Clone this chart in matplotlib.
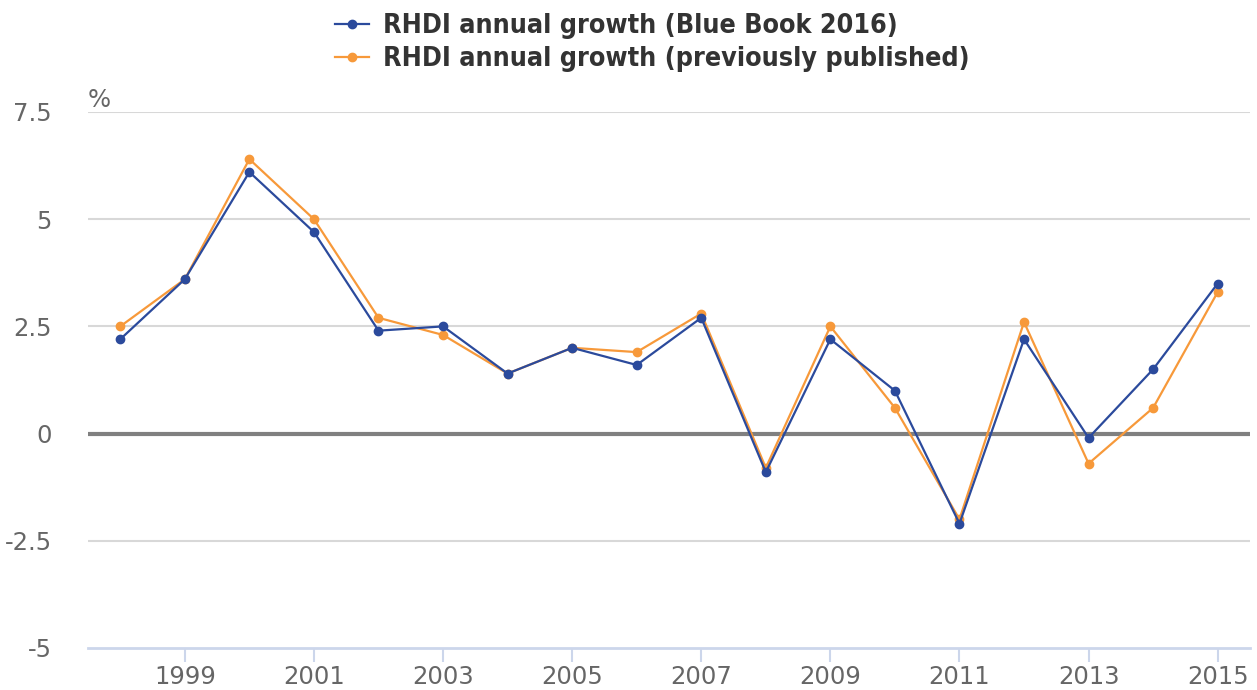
import matplotlib
matplotlib.use('Agg')
import matplotlib.pyplot as plt

years = list(range(1998, 2016))
blue_book_2016 = [2.2, 3.6, 6.1, 4.7, 2.4, 2.5, 1.4, 2.0, 1.6, 2.7,
                  -0.9, 2.2, 1.0, -2.1, 2.2, -0.1, 1.5, 3.5]
previously_published = [2.5, 3.6, 6.4, 5.0, 2.7, 2.3, 1.4, 2.0, 1.9, 2.8,
                        -0.8, 2.5, 0.6, -2.0, 2.6, -0.7, 0.6, 3.3]
y_ticks = [-5, -2.5, 0, 2.5, 5, 7.5]
y_tick_labels = ['-5', '-2.5', '0', '2.5', '5', '7.5']
x_ticks = [1999, 2001, 2003, 2005, 2007, 2009, 2011, 2013, 2015]

fig = plt.figure(figsize=(12.57, 6.9), dpi=100)
ax = fig.add_axes([0.070, 0.0609, 0.9244, 0.7768])

for y in y_ticks[1:]:
    ax.axhline(y, color='#d8d8d8', lw=1.5, zorder=1)
ax.axhline(0, color='#808080', lw=3, zorder=2)

ax.plot(years, blue_book_2016, color='#2b4a9c', lw=1.6, marker='o', ms=6,
        label='RHDI annual growth (Blue Book 2016)', zorder=4)
ax.plot(years, previously_published, color='#f7993a', lw=1.6, marker='o', ms=6,
        label='RHDI annual growth (previously published)', zorder=3)

ax.set_xlim(1997.5, 2015.5)
ax.set_ylim(-5, 7.5)
ax.set_yticks(y_ticks)
ax.set_yticklabels(y_tick_labels)
ax.set_xticks(x_ticks)

for s in ['top', 'right', 'left']:
    ax.spines[s].set_visible(False)
ax.spines['bottom'].set_color('#ccd6eb')
ax.spines['bottom'].set_linewidth(2)
ax.tick_params(axis='y', length=0, pad=26, labelsize=17.5, labelcolor='#666666')
ax.tick_params(axis='x', length=10, width=1.5, color='#ccd6eb', pad=2,
               labelsize=17.5, labelcolor='#666666')

ax.text(0, 1.0, '%', transform=ax.transAxes, fontsize=17.5, color='#666666',
        ha='left', va='bottom')

leg = fig.legend(loc='upper left', bbox_to_anchor=(0.247, 1.016), frameon=False,
                 handlelength=1.3, handletextpad=0.5, labelspacing=0.27,
                 prop={'weight': 'bold', 'size': 19.3, 'stretch': 'condensed'})
for t in leg.get_texts():
    t.set_color('#333333')

fig.savefig('out.png', dpi=100)
